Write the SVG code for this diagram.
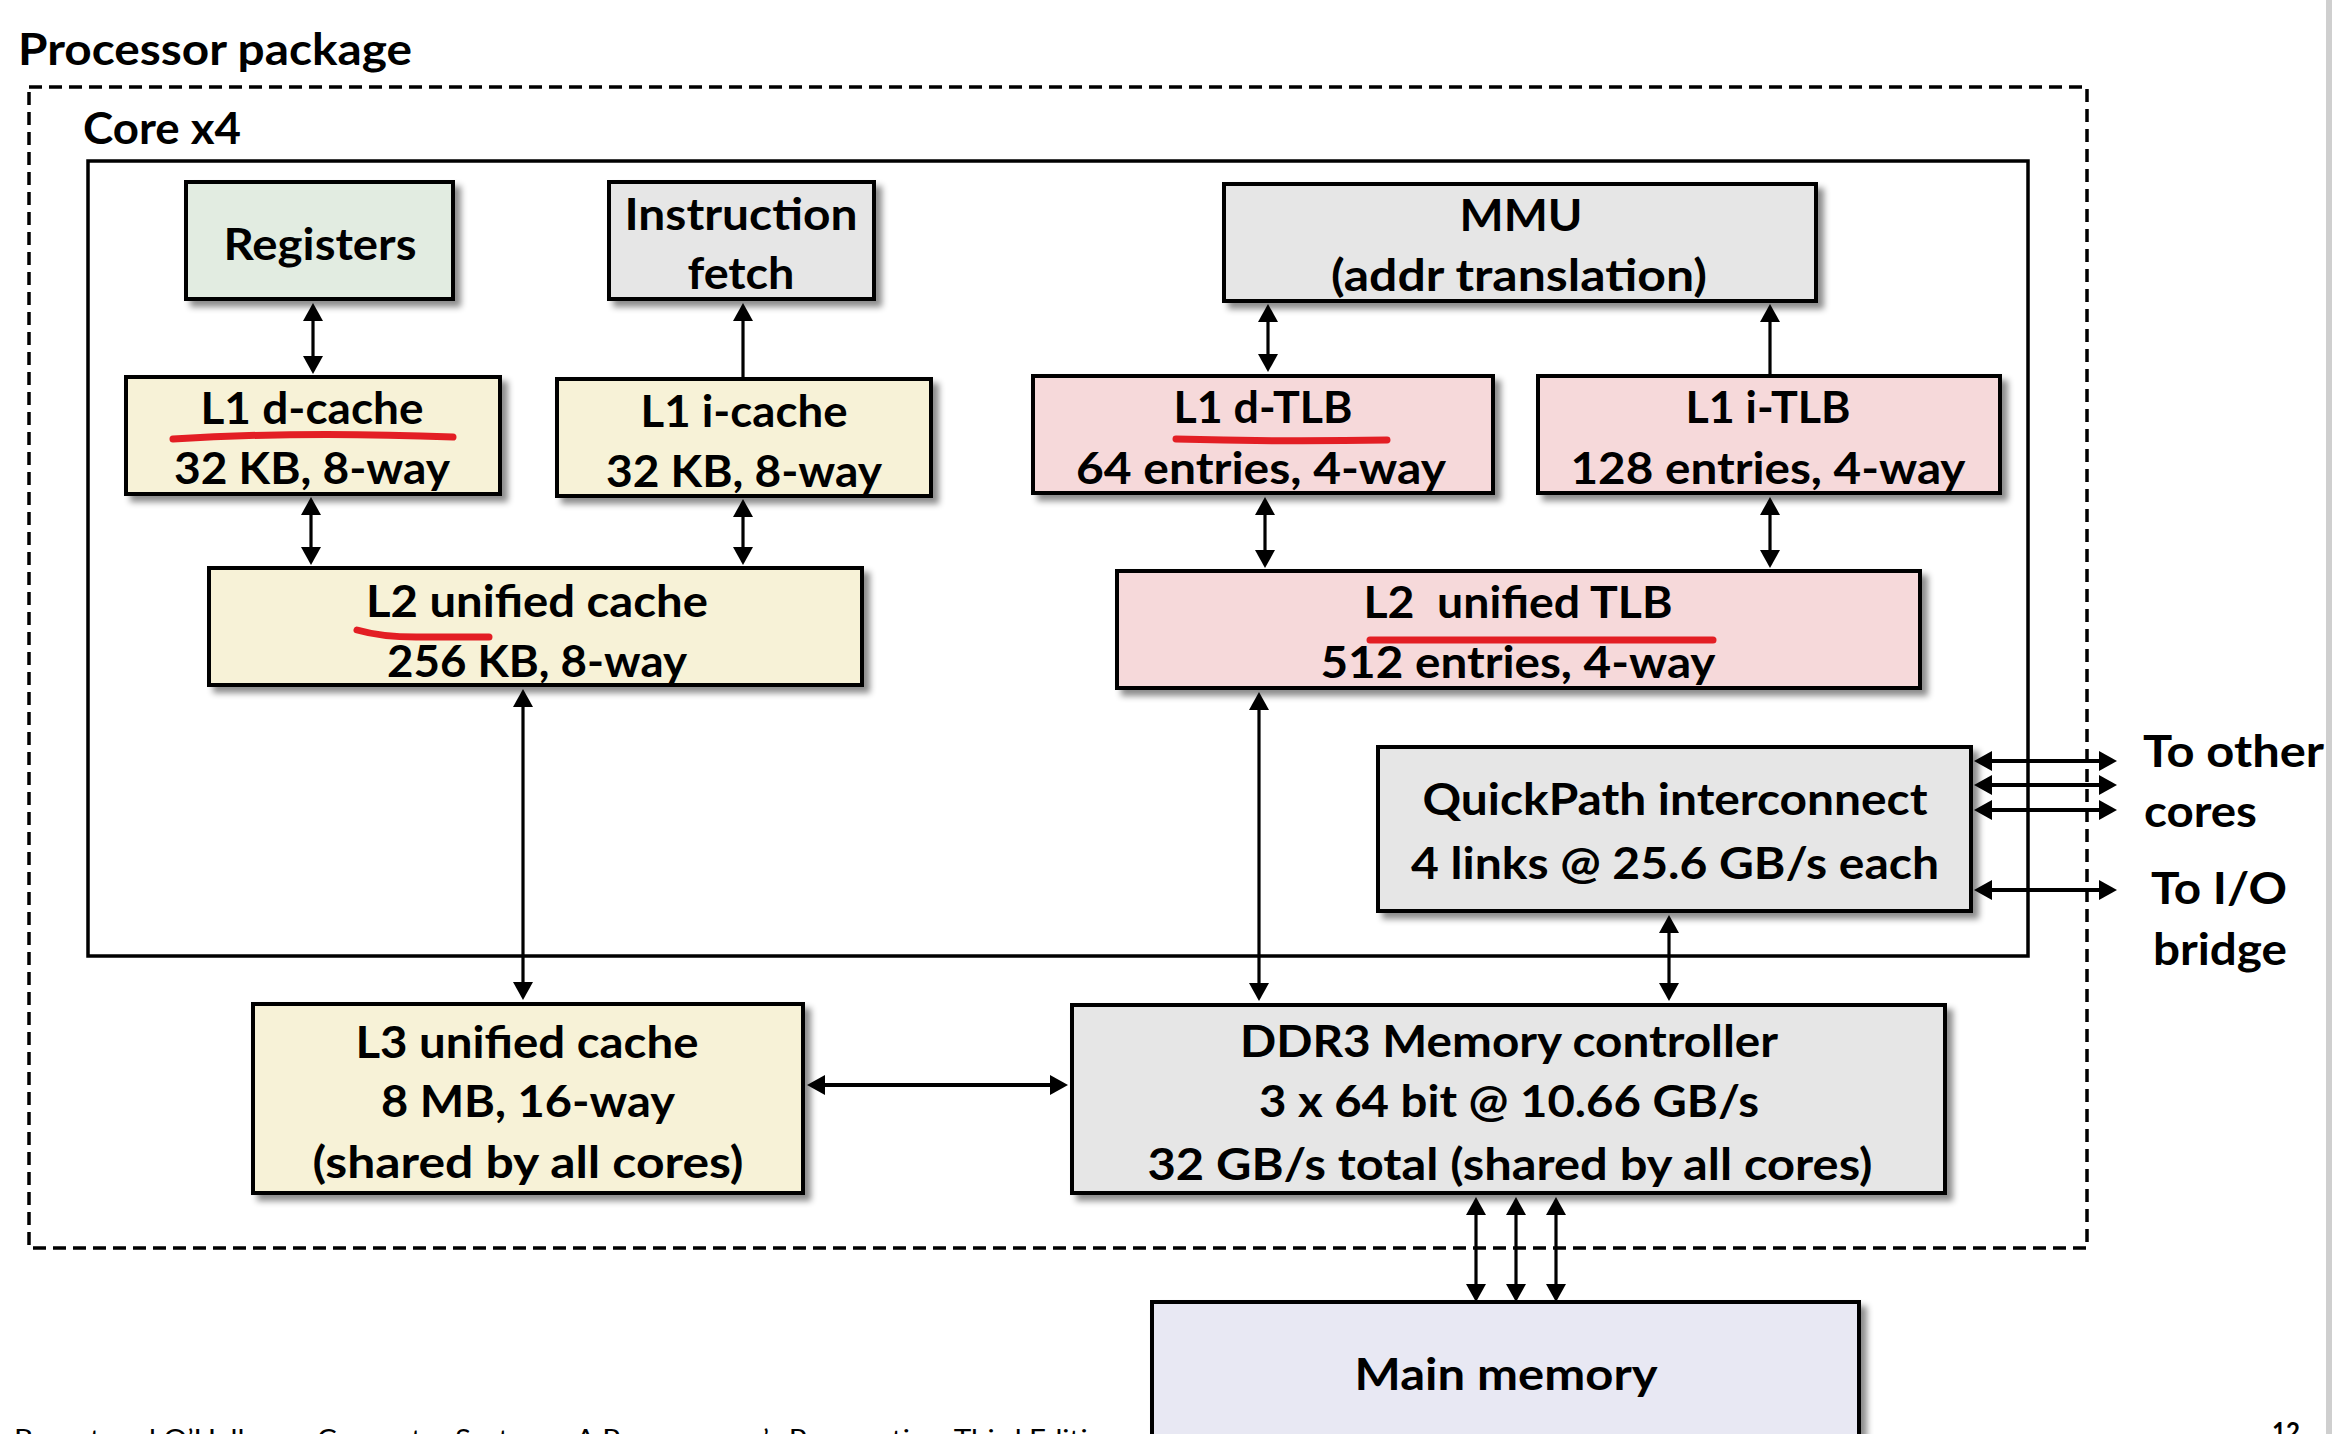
<svg xmlns="http://www.w3.org/2000/svg" width="2332" height="1434" viewBox="0 0 2332 1434">
<style>
  text { font-family: Lato, "Open Sans", "Liberation Sans", sans-serif; font-weight: 700; font-size: 44px; fill: #000; }
  .c { text-anchor: middle; }
  .box { stroke: #000; stroke-width: 4; filter: url(#shadow); }
  .yel { fill: #F7F2D7; }
  .gry { fill: #E6E6E6; }
  .grn { fill: #E2ECE1; }
  .pnk { fill: #F6D9DA; }
  .lav { fill: #E8E8F3; }
  .ln { stroke: #000; stroke-width: 3.2; fill: none; }
  .lnb { stroke: #000; stroke-width: 4; fill: none; }
  .dbl { marker-start: url(#ah); marker-end: url(#ah); }
  .one { marker-end: url(#ah); }
  .red { stroke: #E31E24; stroke-width: 7; fill: none; stroke-linecap: round; }
  .foot { font-weight: 400; font-size: 26px; }
</style>
<defs>
  <filter id="shadow" x="-5%" y="-10%" width="115%" height="130%">
    <feDropShadow dx="6" dy="6" stdDeviation="3" flood-color="#000" flood-opacity="0.45"/>
  </filter>
  <marker id="ah" viewBox="0 0 18 20" refX="14" refY="10" markerWidth="18" markerHeight="20" markerUnits="userSpaceOnUse" orient="auto-start-reverse">
    <path d="M0,0 L18,10 L0,20 Z" fill="#000"/>
  </marker>
</defs>

<rect x="0" y="0" width="2332" height="1434" fill="#fff"/>
<rect x="2326" y="0" width="6" height="1434" fill="#CFCFCF"/>

<g id="package">
  <text x="18" y="65" textLength="394" lengthAdjust="spacingAndGlyphs">Processor package</text>
  <rect x="29" y="87" width="2058" height="1161" fill="none" stroke="#000" stroke-width="3.5" stroke-dasharray="13 7"/>
</g>

<g id="core">
  <text x="83" y="144" textLength="158" lengthAdjust="spacingAndGlyphs">Core x4</text>
  <rect x="88" y="161" width="1940" height="795" fill="none" stroke="#000" stroke-width="3.5"/>
</g>

<g id="registers">
  <rect class="box grn" x="186" y="182" width="267" height="117"/>
  <text class="c" x="320" y="260" textLength="193" lengthAdjust="spacingAndGlyphs">Registers</text>
</g>

<g id="ifetch">
  <rect class="box gry" x="609" y="182" width="265" height="117"/>
  <text class="c" x="741" y="230" textLength="233" lengthAdjust="spacingAndGlyphs">Instruction</text>
  <text class="c" x="741" y="289" textLength="107" lengthAdjust="spacingAndGlyphs">fetch</text>
</g>

<g id="l1d">
  <rect class="box yel" x="126" y="377" width="374" height="117"/>
  <text class="c" x="312" y="424" textLength="223" lengthAdjust="spacingAndGlyphs">L1 d-cache</text>
  <text class="c" x="312" y="484" textLength="276" lengthAdjust="spacingAndGlyphs">32 KB, 8-way</text>
  <path class="red" d="M173,439 Q300,431 453,437"/>
</g>

<g id="l1i">
  <rect class="box yel" x="557" y="379" width="374" height="117"/>
  <text class="c" x="744" y="427" textLength="207" lengthAdjust="spacingAndGlyphs">L1 i-cache</text>
  <text class="c" x="744" y="487" textLength="276" lengthAdjust="spacingAndGlyphs">32 KB, 8-way</text>
</g>

<g id="l2">
  <rect class="box yel" x="209" y="568" width="653" height="117"/>
  <text class="c" x="537" y="617" textLength="342" lengthAdjust="spacingAndGlyphs">L2 unified cache</text>
  <text class="c" x="537" y="677" textLength="300" lengthAdjust="spacingAndGlyphs">256 KB, 8-way</text>
  <path class="red" d="M357,630 Q385,638 425,637 L489,637"/>
</g>

<g id="mmu">
  <rect class="box gry" x="1224" y="184" width="592" height="117"/>
  <text class="c" x="1521" y="231" textLength="123" lengthAdjust="spacingAndGlyphs">MMU</text>
  <text class="c" x="1519" y="291" textLength="376" lengthAdjust="spacingAndGlyphs">(addr translation)</text>
</g>

<g id="l1dtlb">
  <rect class="box pnk" x="1033" y="376" width="460" height="117"/>
  <text class="c" x="1263" y="423" textLength="179" lengthAdjust="spacingAndGlyphs">L1 d-TLB</text>
  <text class="c" x="1261" y="484" textLength="370" lengthAdjust="spacingAndGlyphs">64 entries, 4-way</text>
  <path class="red" d="M1176,439 Q1280,442 1387,440"/>
</g>

<g id="l1itlb">
  <rect class="box pnk" x="1538" y="376" width="462" height="117"/>
  <text class="c" x="1768" y="423" textLength="165" lengthAdjust="spacingAndGlyphs">L1 i-TLB</text>
  <text class="c" x="1768" y="484" textLength="395" lengthAdjust="spacingAndGlyphs">128 entries, 4-way</text>
</g>

<g id="l2tlb">
  <rect class="box pnk" x="1117" y="571" width="803" height="117"/>
  <text class="c" x="1518" y="618" textLength="309" lengthAdjust="spacingAndGlyphs" xml:space="preserve">L2  unified TLB</text>
  <text class="c" x="1518" y="678" textLength="395" lengthAdjust="spacingAndGlyphs">512 entries, 4-way</text>
  <path class="red" d="M1370,640 L1713,640"/>
</g>

<g id="quickpath">
  <rect class="box gry" x="1378" y="747" width="593" height="164"/>
  <text class="c" x="1675" y="815" textLength="505" lengthAdjust="spacingAndGlyphs">QuickPath interconnect</text>
  <text class="c" x="1675" y="879" textLength="528" lengthAdjust="spacingAndGlyphs">4 links @ 25.6 GB/s each</text>
</g>

<g id="l3">
  <rect class="box yel" x="253" y="1004" width="550" height="189"/>
  <text class="c" x="527" y="1058" textLength="343" lengthAdjust="spacingAndGlyphs">L3 unified cache</text>
  <text class="c" x="528" y="1117" textLength="294" lengthAdjust="spacingAndGlyphs">8 MB, 16-way</text>
  <text class="c" x="528" y="1178" textLength="431" lengthAdjust="spacingAndGlyphs">(shared by all cores)</text>
</g>

<g id="ddr3">
  <rect class="box gry" x="1072" y="1005" width="873" height="188"/>
  <text class="c" x="1509" y="1057" textLength="538" lengthAdjust="spacingAndGlyphs">DDR3 Memory controller</text>
  <text class="c" x="1509" y="1117" textLength="500" lengthAdjust="spacingAndGlyphs">3 x 64 bit @ 10.66 GB/s</text>
  <text class="c" x="1510" y="1180" textLength="725" lengthAdjust="spacingAndGlyphs">32 GB/s total (shared by all cores)</text>
</g>

<g id="mainmem">
  <rect class="box lav" x="1152" y="1302" width="707" height="200"/>
  <text class="c" x="1506" y="1390" textLength="303" lengthAdjust="spacingAndGlyphs">Main memory</text>
</g>

<g id="labels">
  <text x="2143" y="767" textLength="181" lengthAdjust="spacingAndGlyphs">To other</text>
  <text x="2144" y="827" textLength="113" lengthAdjust="spacingAndGlyphs">cores</text>
  <text x="2151" y="904" textLength="136" lengthAdjust="spacingAndGlyphs">To I/O</text>
  <text x="2153" y="965" textLength="134" lengthAdjust="spacingAndGlyphs">bridge</text>
</g>

<g id="connectors">
  <line class="ln dbl" x1="313" y1="307" x2="313" y2="370"/>
  <line class="ln one" x1="743" y1="377" x2="743" y2="307"/>
  <line class="ln dbl" x1="311" y1="501" x2="311" y2="561"/>
  <line class="ln dbl" x1="743" y1="503" x2="743" y2="561"/>
  <line class="ln dbl" x1="523" y1="693" x2="523" y2="996"/>
  <line class="ln dbl" x1="1268" y1="308" x2="1268" y2="368"/>
  <line class="ln one" x1="1770" y1="374" x2="1770" y2="308"/>
  <line class="ln dbl" x1="1265" y1="501" x2="1265" y2="564"/>
  <line class="ln dbl" x1="1770" y1="501" x2="1770" y2="564"/>
  <line class="ln dbl" x1="1259" y1="696" x2="1259" y2="997"/>
  <line class="ln dbl" x1="1669" y1="919" x2="1669" y2="997"/>
  <line class="lnb dbl" x1="811" y1="1085" x2="1064" y2="1085"/>
  <line class="ln dbl" x1="1476" y1="1201" x2="1476" y2="1298"/>
  <line class="ln dbl" x1="1516" y1="1201" x2="1516" y2="1298"/>
  <line class="ln dbl" x1="1556" y1="1201" x2="1556" y2="1298"/>
  <line class="lnb dbl" x1="1978" y1="761" x2="2113" y2="761"/>
  <line class="lnb dbl" x1="1978" y1="785" x2="2113" y2="785"/>
  <line class="lnb dbl" x1="1978" y1="810" x2="2113" y2="810"/>
  <line class="lnb dbl" x1="1978" y1="890" x2="2113" y2="890"/>
</g>

<g id="footer">
  <text class="foot" x="14" y="1449" textLength="1107" lengthAdjust="spacingAndGlyphs">Bryant and O’Hallaron, Computer Systems: A Programmer’s Perspective, Third Edition</text>
  <text x="2272" y="1441" style="font-size:26px" textLength="28" lengthAdjust="spacingAndGlyphs">12</text>
</g>
</svg>
